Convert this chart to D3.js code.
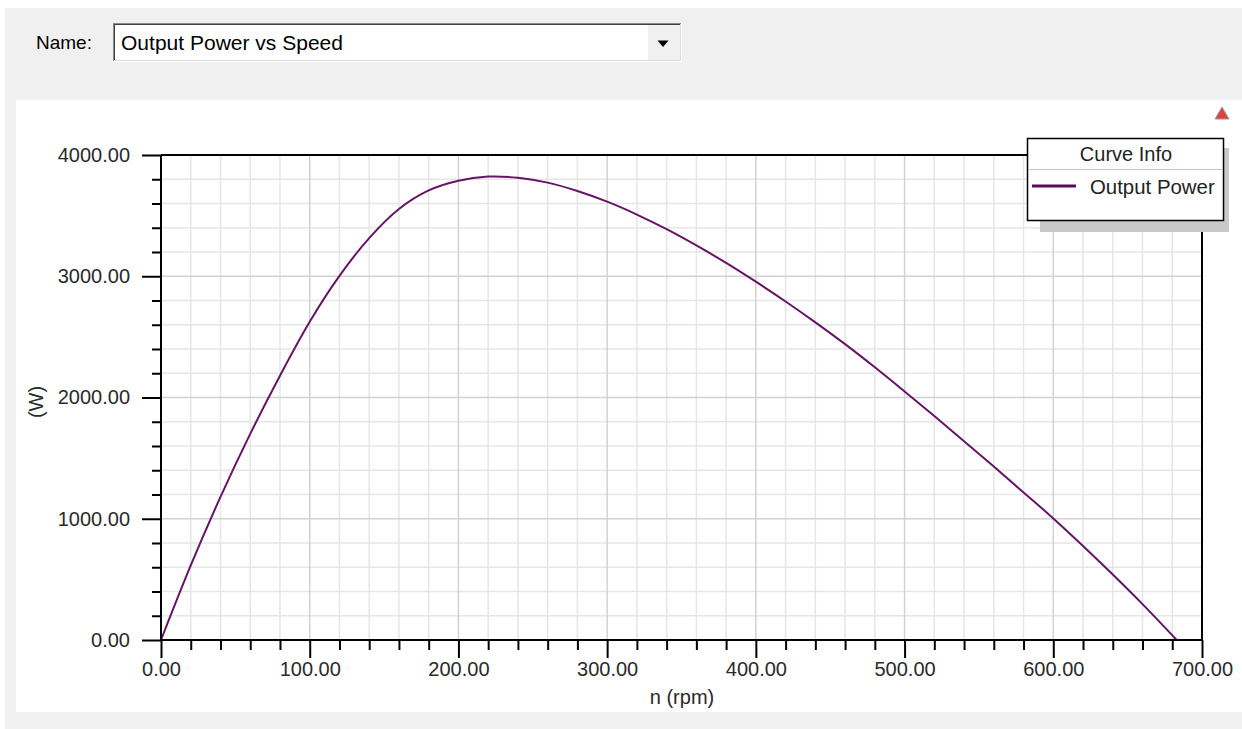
<!DOCTYPE html>
<html>
<head>
<meta charset="utf-8">
<script src="https://cdn.jsdelivr.net/npm/d3@7"></script>
<style>
  html, body { margin: 0; padding: 0; background: #ffffff; }
  svg { display: block; }
  text { font-family: "Liberation Sans", Arial, sans-serif; }
</style>
</head>
<body>
<svg id="chart" width="1242" height="729"></svg>
<script>
// ---------- data ----------
const speedRpm = [0, 20, 40, 60, 80, 100, 120, 140, 160, 180, 200, 220, 240, 260, 280, 300, 320, 340, 360, 380, 400, 420, 440, 460, 480, 500, 520, 540, 560, 580, 600, 620, 640, 660, 683];
const outputPowerW = [0, 615, 1180, 1700, 2180, 2625, 3003, 3315, 3555, 3708, 3788, 3822, 3812, 3772, 3703, 3615, 3509, 3388, 3254, 3110, 2955, 2792, 2620, 2440, 2249, 2050, 1847, 1640, 1430, 1217, 1003, 776, 540, 296, 0];
const xMajorTicks = [0, 100, 200, 300, 400, 500, 600, 700];
const yMajorTicks = [0, 1000, 2000, 3000, 4000];
const xMinorTicks = d3.range(0, 701, 20).filter(v => v % 100 !== 0);
const yMinorTicks = d3.range(0, 4001, 200).filter(v => v % 1000 !== 0);
const seriesName = "Output Power";
const legendTitle = "Curve Info";
const xTitle = "n (rpm)";
const yTitle = "(W)";
const plotName = "Output Power vs Speed";

// ---------- layout ----------
const svg = d3.select("#chart");
const L = 161, R = 1202, T = 155, B = 640;
const x = d3.scaleLinear().domain([0, 700]).range([L, R]);
const y = d3.scaleLinear().domain([0, 4000]).range([B, T]);
const fmt = d3.format(".2f");
const curveColor = "#661466";

// backgrounds
svg.append("rect").attr("x", 5).attr("y", 8).attr("width", 1237).attr("height", 721).attr("fill", "#f0f0f0");
svg.append("rect").attr("x", 16).attr("y", 100).attr("width", 1226).attr("height", 612).attr("fill", "#ffffff");

// ---------- header (Name dropdown) ----------
svg.append("text").attr("x", 36).attr("y", 49).attr("font-size", 19).attr("fill", "#000").text("Name:");
svg.append("rect").attr("x", 113).attr("y", 23).attr("width", 569).attr("height", 39).attr("fill", "#ffffff");
const hdr = svg.append("g").attr("fill", "none").attr("stroke-width", 1);
hdr.append("line").attr("x1", 113).attr("x2", 682).attr("y1", 23.5).attr("y2", 23.5).attr("stroke", "#8a8a8a");
hdr.append("line").attr("x1", 114).attr("x2", 681).attr("y1", 24.5).attr("y2", 24.5).attr("stroke", "#404040");
hdr.append("line").attr("x1", 113.5).attr("x2", 113.5).attr("y1", 23).attr("y2", 62).attr("stroke", "#8a8a8a");
hdr.append("line").attr("x1", 114.5).attr("x2", 114.5).attr("y1", 24).attr("y2", 61).attr("stroke", "#404040");
hdr.append("line").attr("x1", 113).attr("x2", 682).attr("y1", 61.5).attr("y2", 61.5).attr("stroke", "#ffffff");
hdr.append("line").attr("x1", 114).attr("x2", 681).attr("y1", 60.5).attr("y2", 60.5).attr("stroke", "#dcdcdc");
hdr.append("line").attr("x1", 681.5).attr("x2", 681.5).attr("y1", 23).attr("y2", 62).attr("stroke", "#ffffff");
hdr.append("line").attr("x1", 680.5).attr("x2", 680.5).attr("y1", 24).attr("y2", 61).attr("stroke", "#dcdcdc");
svg.append("text").attr("x", 121).attr("y", 50).attr("font-size", 20).attr("fill", "#000")
  .attr("textLength", 222).attr("lengthAdjust", "spacingAndGlyphs").text(plotName);
// arrow button
svg.append("rect").attr("x", 648).attr("y", 25).attr("width", 32).attr("height", 35).attr("fill", "#f0f0f0");
hdr.append("line").attr("x1", 648).attr("x2", 680).attr("y1", 25.5).attr("y2", 25.5).attr("stroke", "#ffffff");
hdr.append("line").attr("x1", 648.5).attr("x2", 648.5).attr("y1", 25).attr("y2", 60).attr("stroke", "#ffffff");
hdr.append("line").attr("x1", 648).attr("x2", 680).attr("y1", 59.5).attr("y2", 59.5).attr("stroke", "#404040");
hdr.append("line").attr("x1", 679.5).attr("x2", 679.5).attr("y1", 25).attr("y2", 60).attr("stroke", "#404040");
hdr.append("line").attr("x1", 649).attr("x2", 679).attr("y1", 58.5).attr("y2", 58.5).attr("stroke", "#a0a0a0");
hdr.append("line").attr("x1", 678.5).attr("x2", 678.5).attr("y1", 26).attr("y2", 59).attr("stroke", "#a0a0a0");
svg.append("path").attr("d", "M657.5,40.5 L668.5,40.5 L663,47 Z").attr("fill", "#000");

// warning triangle icon
svg.append("path").attr("d", "M1222,107 L1215,119 L1229,119 Z").attr("fill", "#e04040").attr("stroke", "#9a9a9a").attr("stroke-width", 1);

// ---------- grid ----------
const grid = svg.append("g");
grid.selectAll(".gxm").data(xMinorTicks).join("line")
  .attr("x1", d => x(d)).attr("x2", d => x(d)).attr("y1", T).attr("y2", B)
  .attr("stroke", "#e6e6e6").attr("stroke-width", 1.5);
grid.selectAll(".gym").data(yMinorTicks).join("line")
  .attr("x1", L).attr("x2", R).attr("y1", d => y(d)).attr("y2", d => y(d))
  .attr("stroke", "#e6e6e6").attr("stroke-width", 1.5);
grid.selectAll(".gxM").data(xMajorTicks.filter(d => d > 0 && d < 700)).join("line")
  .attr("x1", d => x(d)).attr("x2", d => x(d)).attr("y1", T).attr("y2", B)
  .attr("stroke", "#d2d2d2").attr("stroke-width", 1.5);
grid.selectAll(".gyM").data(yMajorTicks.filter(d => d > 0 && d < 4000)).join("line")
  .attr("x1", L).attr("x2", R).attr("y1", d => y(d)).attr("y2", d => y(d))
  .attr("stroke", "#d2d2d2").attr("stroke-width", 1.5);

// ---------- curve ----------
const pts = speedRpm.map((s, i) => [s, outputPowerW[i]]);
svg.append("path").datum(pts)
  .attr("fill", "none").attr("stroke", curveColor).attr("stroke-width", 2)
  .attr("d", d3.line().x(d => x(d[0])).y(d => y(d[1])).curve(d3.curveCatmullRom.alpha(0.5)));

// ---------- axes ----------
function styleAxis(g) {
  g.selectAll("path.domain").remove();
  g.selectAll("line").attr("stroke", "#000").attr("stroke-width", 2);
  g.selectAll("text").attr("font-size", 20).attr("fill", "#2a2a2a").attr("font-family", "Liberation Sans, Arial, sans-serif");
}
// frame lines
svg.append("line").attr("x1", L).attr("x2", R).attr("y1", T).attr("y2", T).attr("stroke", "#000").attr("stroke-width", 2);
svg.append("line").attr("x1", R).attr("x2", R).attr("y1", T).attr("y2", B).attr("stroke", "#000").attr("stroke-width", 2);
svg.append("line").attr("x1", L).attr("x2", L).attr("y1", T).attr("y2", B + 1).attr("stroke", "#000").attr("stroke-width", 2);
svg.append("line").attr("x1", L - 1).attr("x2", R + 1).attr("y1", B).attr("y2", B).attr("stroke", "#000").attr("stroke-width", 2);

svg.append("g").attr("transform", `translate(0,${B})`)
  .call(d3.axisBottom(x).tickValues(xMinorTicks).tickSize(10).tickFormat(""))
  .call(styleAxis);
svg.append("g").attr("transform", `translate(0,${B})`)
  .call(d3.axisBottom(x).tickValues(xMajorTicks).tickSize(18).tickPadding(4).tickFormat(fmt))
  .call(styleAxis);
svg.append("g").attr("transform", `translate(${L},0)`)
  .call(d3.axisLeft(y).tickValues(yMinorTicks).tickSize(9).tickFormat(""))
  .call(styleAxis);
svg.append("g").attr("transform", `translate(${L},0)`)
  .call(d3.axisLeft(y).tickValues(yMajorTicks).tickSize(19).tickPadding(12).tickFormat(fmt))
  .call(styleAxis);

// axis titles
svg.append("text").attr("x", 682).attr("y", 704).attr("text-anchor", "middle")
  .attr("font-size", 20).attr("fill", "#2a2a2a").text(xTitle);
svg.append("text").attr("transform", "translate(43,402) rotate(-90)").attr("text-anchor", "middle")
  .attr("font-size", 20).attr("fill", "#2a2a2a").text(yTitle);

// ---------- legend ----------
const lg = svg.append("g");
lg.append("rect").attr("x", 1040).attr("y", 148).attr("width", 189).attr("height", 84).attr("fill", "#c8c8c8");
lg.append("rect").attr("x", 1027.5).attr("y", 138.5).attr("width", 196).attr("height", 82)
  .attr("fill", "#ffffff").attr("stroke", "#000").attr("stroke-width", 1.5);
lg.append("line").attr("x1", 1028).attr("x2", 1223).attr("y1", 169.5).attr("y2", 169.5).attr("stroke", "#c4c4c4").attr("stroke-width", 1);
lg.append("text").attr("x", 1126).attr("y", 161).attr("text-anchor", "middle").attr("font-size", 20).attr("fill", "#222").text(legendTitle);
lg.append("line").attr("x1", 1032).attr("x2", 1076).attr("y1", 186).attr("y2", 186).attr("stroke", "#5a0c5a").attr("stroke-width", 3);
lg.append("text").attr("x", 1090).attr("y", 194).attr("font-size", 20.4).attr("fill", "#222").text(seriesName);
</script>
</body>
</html>
